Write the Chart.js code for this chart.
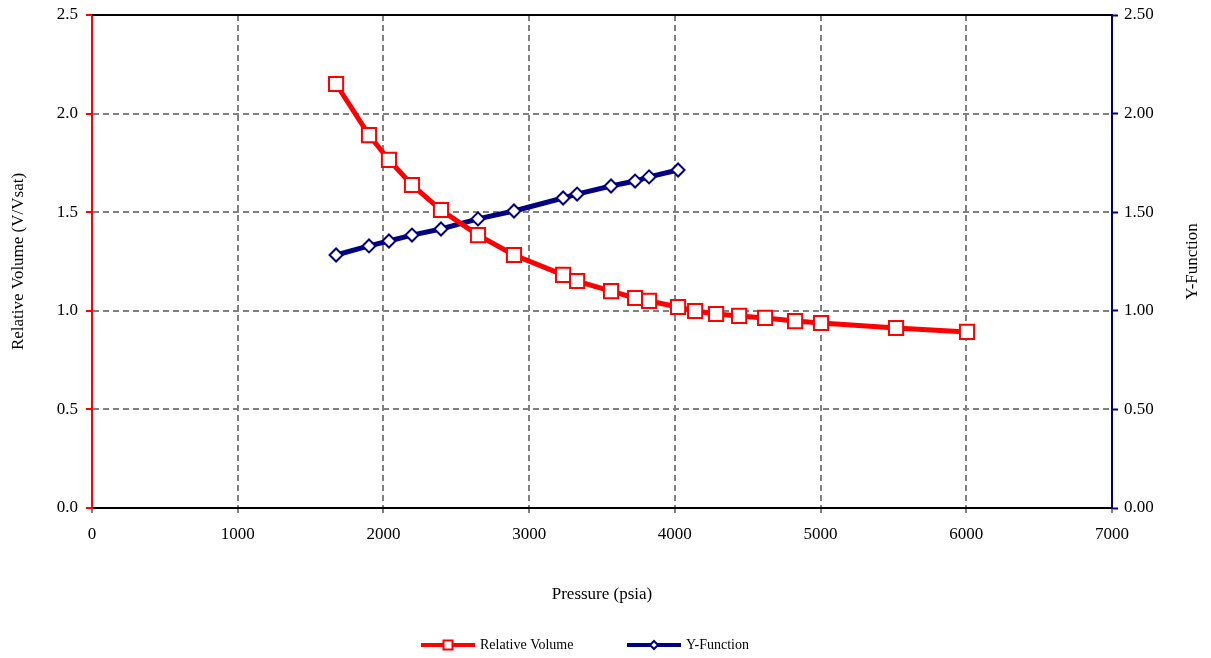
<!DOCTYPE html>
<html>
<head>
<meta charset="utf-8">
<script src="https://cdn.jsdelivr.net/npm/chart.js@4.4.1/dist/chart.umd.min.js"></script>
<style>
  html, body { margin: 0; padding: 0; background: #fff; }
  #wrap { width: 1211px; height: 658px; position: relative; }
</style>
</head>
<body>
<div id="wrap"><canvas id="chart"></canvas></div>
<script>
// Relative volume (V/Vsat) vs pressure
const rvPressure = [1675, 1901, 2038, 2196, 2395, 2649, 2896, 3233, 3329, 3562, 3727, 3823, 4022, 4139, 4283, 4441, 4619, 4825, 5003, 5518, 6005];
const relativeVolume = [2.150, 1.891, 1.765, 1.638, 1.511, 1.384, 1.283, 1.182, 1.151, 1.100, 1.065, 1.050, 1.019, 0.999, 0.984, 0.974, 0.964, 0.948, 0.938, 0.913, 0.893];

// Y-function vs pressure (below saturation)
const yfPressure = [1675, 1901, 2038, 2196, 2395, 2649, 2896, 3233, 3329, 3562, 3727, 3823, 4022];
const yFunction = [1.283, 1.329, 1.354, 1.384, 1.415, 1.466, 1.506, 1.572, 1.592, 1.633, 1.658, 1.679, 1.714];

const xTicks = [0, 1000, 2000, 3000, 4000, 5000, 6000, 7000];
const yTicks = [0, 0.5, 1.0, 1.5, 2.0, 2.5];

const RED = "#ff0000";
const NAVY = "#000080";
const GRID = "#808080";
const FONT = "'Liberation Serif', 'Times New Roman', serif";

function toPoints(xs, ys) {
  return xs.map((x, i) => ({ x: x, y: ys[i] }));
}

// y axes: fixed width, and don't let label overflow push the plot down
function fitY(width) {
  return s => {
    s.width = width;
    s.paddingTop = 0;
    s.paddingBottom = 0;
  };
}

// top border, rotated right title, and a line+marker legend
const legendStarts = [421, 627];
const extras = {
  id: "extras",
  afterDraw(chart) {
    const ctx = chart.ctx;
    const a = chart.chartArea;
    ctx.save();
    ctx.strokeStyle = "#000";
    ctx.lineWidth = 2;
    ctx.beginPath();
    ctx.moveTo(a.left, a.top);
    ctx.lineTo(a.right, a.top);
    ctx.stroke();

    // right axis title, reads bottom-to-top like the left one
    ctx.fillStyle = "#000";
    ctx.font = "17px " + FONT;
    ctx.textAlign = "center";
    ctx.textBaseline = "middle";
    ctx.translate(1193, (a.top + a.bottom) / 2);
    ctx.rotate(-Math.PI / 2);
    ctx.fillText("Y-Function", 0, 0);
    ctx.restore();

    // legend
    ctx.save();
    ctx.font = "14px " + FONT;
    ctx.textBaseline = "middle";
    ctx.textAlign = "left";
    const y = 645;
    chart.data.datasets.forEach((ds, i) => {
      const x = legendStarts[i];
      ctx.strokeStyle = ds.borderColor;
      ctx.lineWidth = 4;
      ctx.beginPath();
      ctx.moveTo(x, y);
      ctx.lineTo(x + 54, y);
      ctx.stroke();
      const cx = x + 27;
      ctx.fillStyle = "#fff";
      ctx.lineWidth = 2;
      ctx.beginPath();
      if (i === 0) {
        ctx.rect(cx - 4.5, y - 4.5, 9, 9);
      } else {
        ctx.moveTo(cx - 4, y);
        ctx.lineTo(cx, y - 4);
        ctx.lineTo(cx + 4, y);
        ctx.lineTo(cx, y + 4);
        ctx.closePath();
      }
      ctx.fill();
      ctx.stroke();
      ctx.fillStyle = "#000";
      ctx.fillText(ds.label, x + 59, y);
    });
    ctx.restore();
  }
};

const tickFont = { family: FONT, size: 17 };

new Chart(document.getElementById("chart"), {
  type: "line",
  data: {
    datasets: [
      {
        label: "Relative Volume",
        data: toPoints(rvPressure, relativeVolume),
        yAxisID: "y",
        borderColor: RED,
        backgroundColor: "#fff",
        borderWidth: 5,
        pointStyle: "rect",
        pointRadius: 10,
        pointBorderWidth: 2,
        pointBorderColor: RED,
        pointBackgroundColor: "#fff",
        tension: 0
      },
      {
        label: "Y-Function",
        data: toPoints(yfPressure, yFunction),
        yAxisID: "y2",
        borderColor: NAVY,
        backgroundColor: "#fff",
        borderWidth: 5,
        pointStyle: "rectRot",
        pointRadius: 6.5,
        pointBorderWidth: 2,
        pointBorderColor: NAVY,
        pointBackgroundColor: "#fff",
        tension: 0
      }
    ]
  },
  options: {
    responsive: true,
    maintainAspectRatio: false,
    animation: false,
    layout: { padding: { top: 15, bottom: 50, left: 0, right: 0 } },
    plugins: {
      legend: { display: false },
      tooltip: { enabled: false }
    },
    scales: {
      x: {
        type: "linear",
        min: 0,
        max: 7000,
        afterBuildTicks: s => { s.ticks = xTicks.map(v => ({ value: v })); },
        afterFit: s => { s.height = 100; },
        ticks: { color: "#000", font: tickFont, padding: 11, maxRotation: 0, callback: v => String(v) },
        grid: {
          color: c => (c.tick && (c.tick.value === 0 || c.tick.value === 7000)) ? "rgba(0,0,0,0)" : GRID,
          lineWidth: 2,
          tickColor: "#000",
          tickLength: 5,
          tickWidth: 1
        },
        border: { color: "#000", width: 2, dash: [6, 4] },
        title: {
          display: true,
          text: "Pressure (psia)",
          color: "#000",
          font: { family: FONT, size: 17 },
          padding: { top: 0, bottom: 3 }
        }
      },
      y: {
        type: "linear",
        position: "left",
        min: 0,
        max: 2.5,
        afterBuildTicks: s => { s.ticks = yTicks.map(v => ({ value: v })); },
        afterFit: fitY(92),
        ticks: {
          color: "#000",
          font: tickFont,
          padding: 8,
          callback: v => v.toFixed(1)
        },
        grid: {
          color: c => (c.tick && (c.tick.value === 0 || c.tick.value === 2.5)) ? "rgba(0,0,0,0)" : GRID,
          lineWidth: 2,
          tickColor: RED,
          tickLength: 6,
          tickWidth: 2
        },
        border: { color: RED, width: 2, dash: [6, 4] },
        title: {
          display: true,
          text: "Relative Volume (V/Vsat)",
          color: "#000",
          font: { family: FONT, size: 17 },
          padding: { top: 8, bottom: 0 }
        }
      },
      y2: {
        type: "linear",
        position: "right",
        min: 0,
        max: 2.5,
        afterBuildTicks: s => { s.ticks = yTicks.map(v => ({ value: v })); },
        afterFit: fitY(99),
        ticks: {
          color: "#000",
          font: tickFont,
          padding: 6,
          callback: v => v.toFixed(2)
        },
        grid: {
          drawOnChartArea: false,
          tickColor: NAVY,
          tickLength: 6,
          tickWidth: 2
        },
        border: { color: NAVY, width: 2 }
      }
    }
  },
  plugins: [extras]
});
</script>
</body>
</html>
